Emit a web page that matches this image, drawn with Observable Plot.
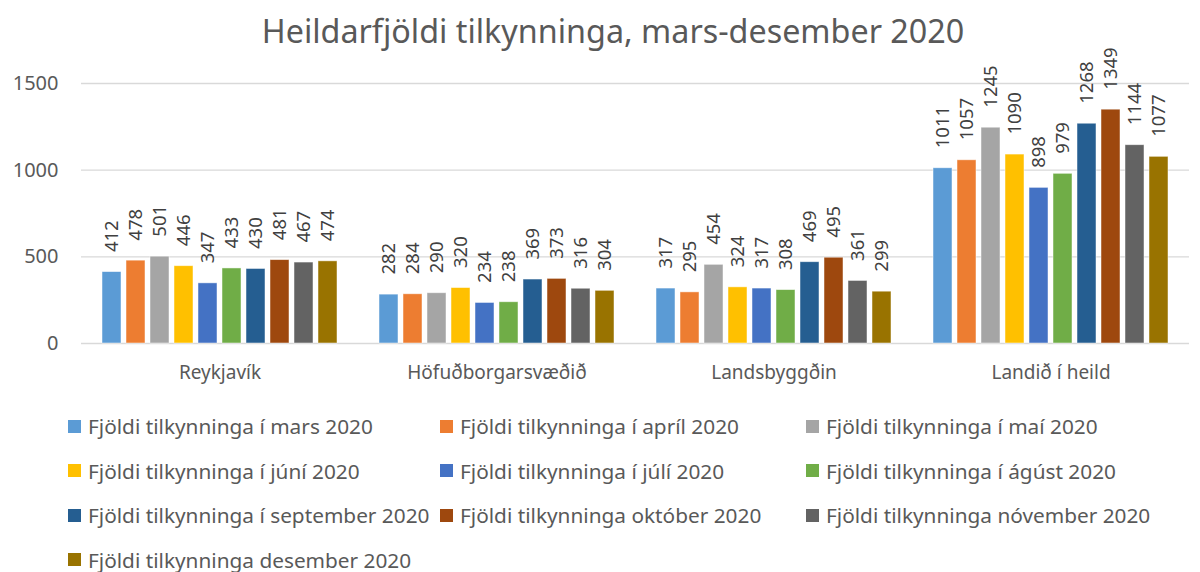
<!DOCTYPE html>
<html>
<head>
<meta charset="utf-8">
<script src="https://cdn.jsdelivr.net/npm/d3@7"></script>
<script src="https://cdn.jsdelivr.net/npm/@observablehq/plot@0.6"></script>
<style>
  html, body { margin: 0; padding: 0; background: #fff; }
  body { width: 1200px; height: 572px; position: relative; overflow: hidden; font-family: "Noto Sans", sans-serif; color: #595959; }
  #title { position: absolute; left: 13px; top: 7px; width: 1200px; text-align: center; font-size: 32.3px; line-height: 46px; color: #595959; }
  #chart { position: absolute; left: 0; top: 60px; }
  #legend { position: absolute; left: 68px; top: 404px; display: grid; grid-template-columns: 372px 366px 380px; row-gap: 0; }
  .item { display: flex; align-items: center; height: 44.5px; font-size: 20.8px; color: #595959; white-space: nowrap; }
  .sw { width: 13px; height: 13px; margin-right: 7px; flex: none; }
  svg text { font-family: "Noto Sans", sans-serif; }
</style>
</head>
<body>
<div id="title">Heildarfjöldi tilkynninga, mars-desember 2020</div>
<div id="chart"></div>
<div id="legend"></div>
<script>
const categories = ["Reykjavík", "Höfuðborgarsvæðið", "Landsbyggðin", "Landið í heild"];
const seriesNames = [
  "Fjöldi tilkynninga í mars 2020",
  "Fjöldi tilkynninga í apríl 2020",
  "Fjöldi tilkynninga í maí 2020",
  "Fjöldi tilkynninga í júní 2020",
  "Fjöldi tilkynninga í júlí 2020",
  "Fjöldi tilkynninga í ágúst 2020",
  "Fjöldi tilkynninga í september 2020",
  "Fjöldi tilkynninga október 2020",
  "Fjöldi tilkynninga nóvember 2020",
  "Fjöldi tilkynninga desember 2020"
];
const colors = ["#5B9BD5", "#ED7D31", "#A5A5A5", "#FFC000", "#4472C4", "#70AD47", "#255E91", "#9E480E", "#636363", "#997300"];
const mars      = [412, 282, 317, 1011];
const april     = [478, 284, 295, 1057];
const mai       = [501, 290, 454, 1245];
const juni      = [446, 320, 324, 1090];
const juli      = [347, 234, 317, 898];
const agust     = [433, 238, 308, 979];
const september = [430, 369, 469, 1268];
const oktober   = [481, 373, 495, 1349];
const november  = [467, 316, 361, 1144];
const desember  = [474, 304, 299, 1077];
const yTicks = [0, 500, 1000, 1500];

const seriesValues = [mars, april, mai, juni, juli, agust, september, oktober, november, desember];
const data = [];
categories.forEach((c, ci) => {
  seriesNames.forEach((s, si) => {
    data.push({cat: c, series: s, value: seriesValues[si][ci]});
  });
});

const plot = Plot.plot({
  width: 1200,
  height: 340,
  marginLeft: 81,
  marginRight: 11,
  marginTop: 23,
  marginBottom: 57,
  style: {fontFamily: "Noto Sans, sans-serif", overflow: "visible", background: "transparent"},
  fx: {domain: categories, padding: 0},
  x: {domain: seriesNames, paddingInner: 0.2, paddingOuter: 0.7, axis: null},
  y: {domain: [0, 1500], axis: null},
  color: {domain: seriesNames, range: colors},
  marks: [
    Plot.ruleY(yTicks, {stroke: "#d9d9d9", strokeWidth: 1.3}),
    Plot.axisY(yTicks, {tickSize: 0, tickPadding: 23, label: null, fontSize: 20, color: "#595959", tickFormat: d => String(d), facetAnchor: "left"}),
    Plot.axisFx({anchor: "bottom", tickSize: 0, tickPadding: 22, label: null, fontSize: 19, color: "#595959"}),
    Plot.barY(data, {fx: "cat", x: "series", y: "value", fill: "series", stroke: "#ffffff", strokeOpacity: 0.6, strokeWidth: 0.8}),
    Plot.text(data, {fx: "cat", x: "series", y: "value", text: d => String(d.value), rotate: -90, textAnchor: "start", dy: -20, fontSize: 18.5, fill: "#404040"})
  ]
});
document.getElementById("chart").appendChild(plot);

const legend = document.getElementById("legend");
seriesNames.forEach((s, i) => {
  const item = document.createElement("div");
  item.className = "item";
  const sw = document.createElement("span");
  sw.className = "sw";
  sw.style.background = colors[i];
  item.appendChild(sw);
  item.appendChild(document.createTextNode(s));
  legend.appendChild(item);
});
</script>
</body>
</html>
